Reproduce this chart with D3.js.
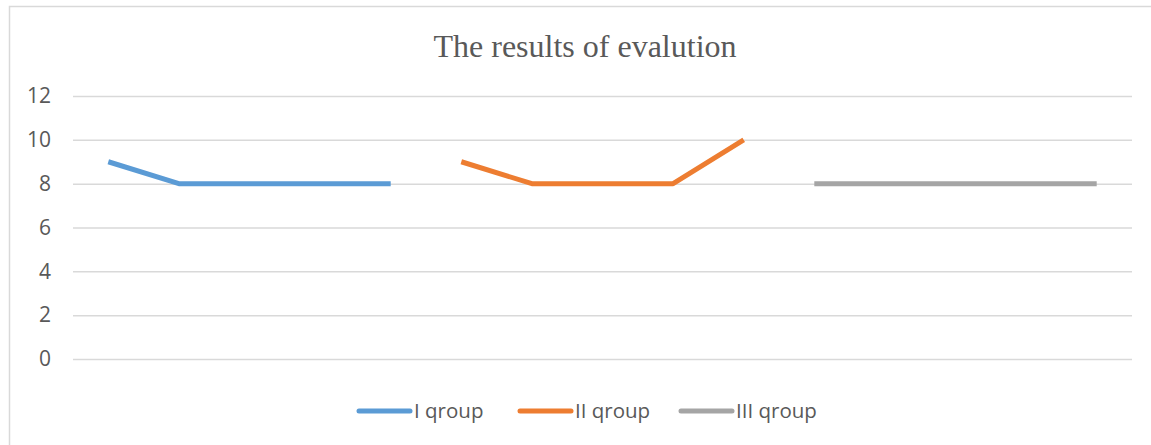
<!DOCTYPE html>
<html>
<head>
<meta charset="utf-8">
<script src="https://cdn.jsdelivr.net/npm/d3@7"></script>
<style>
  body { margin: 0; background: #fff; }
</style>
</head>
<body>
<script>
(function() {
  const categories = ['1', '2', '3', '4', '5', '6', '7', '8', '9', '10', '11', '12', '13', '14', '15'];
  const group1 = [9, 8, 8, 8, 8, null, null, null, null, null, null, null, null, null, null];
  const group2 = [null, null, null, null, null, 9, 8, 8, 8, 10, null, null, null, null, null];
  const group3 = [null, null, null, null, null, null, null, null, null, null, 8, 8, 8, 8, 8];
  const seriesNames = ['I qroup', 'II qroup', 'III qroup'];
  const yTicks = [0, 2, 4, 6, 8, 10, 12];

  const width = 1151;
  const height = 445;
  const colors = ['#5b9bd5', '#ed7d31', '#a5a5a5'];
  const series = [group1, group2, group3];

  const svg = d3.select('body').append('svg').attr('width', width).attr('height', height);

  // chart border
  svg.append('rect')
    .attr('x', 9.5).attr('y', 6.5)
    .attr('width', width + 20).attr('height', height + 20)
    .attr('fill', 'none').attr('stroke', '#d9d9d9').attr('stroke-width', 1.5);

  svg.append('text')
    .attr('x', 585).attr('y', 57)
    .attr('text-anchor', 'middle')
    .attr('font-family', 'Liberation Serif, Times New Roman, serif')
    .attr('font-size', 32)
    .attr('fill', '#595959')
    .text('The results of evalution');

  const xScale = d3.scaleBand()
    .domain(categories)
    .range([73, 1132]);

  const yScale = d3.scaleLinear()
    .domain([0, 12])
    .range([359, 96]);

  const yAxis = svg.append('g')
    .attr('transform', 'translate(73,0)')
    .call(d3.axisLeft(yScale).tickValues(yTicks).tickSize(-(1132 - 73)).tickPadding(22));
  yAxis.select('.domain').remove();
  yAxis.selectAll('.tick line').attr('stroke', '#d9d9d9').attr('stroke-width', 1.5);
  yAxis.selectAll('.tick text')
    .attr('font-family', 'Open Sans, Noto Sans, sans-serif')
    .attr('font-size', 21)
    .attr('fill', '#595959');

  const line = d3.line()
    .defined(function(d) { return d != null; })
    .x(function(d, i) { return xScale(categories[i]) + xScale.bandwidth() / 2; })
    .y(function(d) { return yScale(d); });

  series.forEach(function(s, k) {
    svg.append('path')
      .datum(s)
      .attr('d', line)
      .attr('fill', 'none')
      .attr('stroke', colors[k])
      .attr('stroke-width', 5)
      .attr('stroke-linejoin', 'round');
  });

  const legendX = [357, 518, 679];
  const legend = svg.append('g');
  seriesNames.forEach(function(name, k) {
    legend.append('line')
      .attr('x1', legendX[k] + 2).attr('x2', legendX[k] + 53)
      .attr('y1', 411).attr('y2', 411)
      .attr('stroke', colors[k]).attr('stroke-width', 5)
      .attr('stroke-linecap', 'round');
    legend.append('text')
      .attr('x', legendX[k] + 57).attr('y', 418)
      .attr('font-family', 'Open Sans, Noto Sans, sans-serif')
      .attr('font-size', 20.5)
      .attr('fill', '#595959')
      .text(name);
  });
})();
</script>
</body>
</html>
